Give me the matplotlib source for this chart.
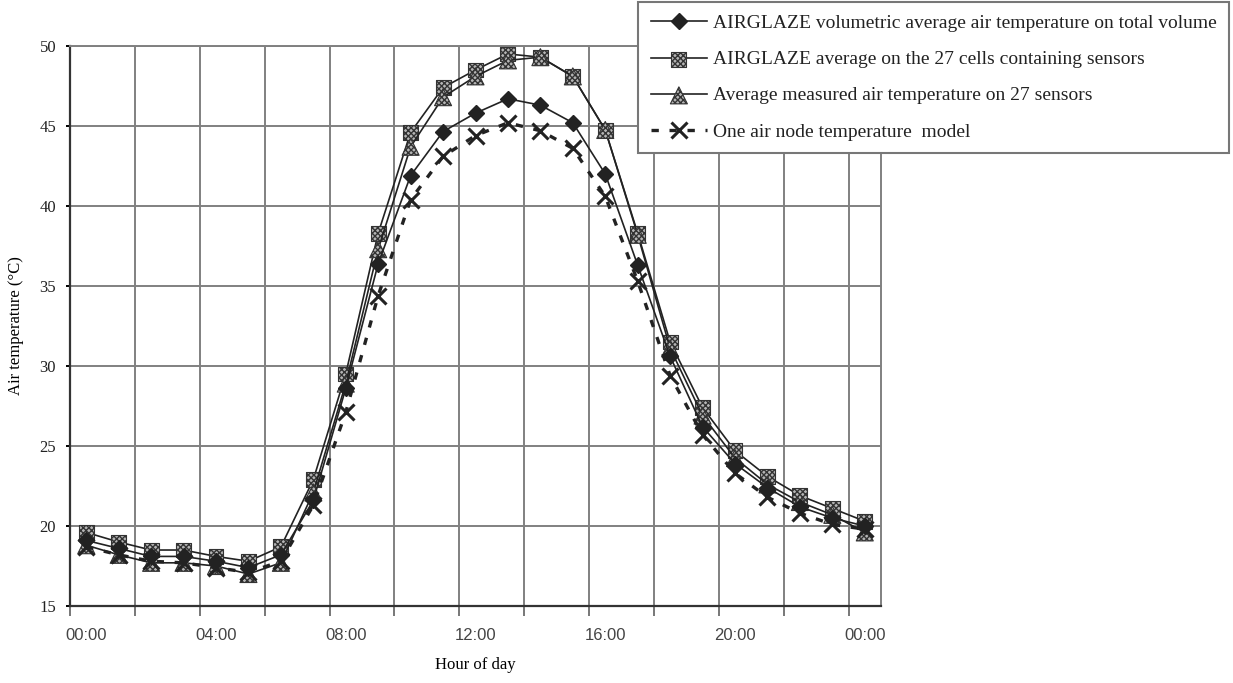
import numpy as np
import matplotlib.pyplot as plt

# hourly values, 00:00 to 00:00 next day
hours = np.arange(25)
label_pos = [0, 4, 8, 12, 16, 20, 24]
hour_labels = ["00:00", "04:00", "08:00", "12:00", "16:00", "20:00", "00:00"]
y_ticks = [15, 20, 25, 30, 35, 40, 45, 50]

airglaze_volume = [19.1, 18.6, 18.1, 18.1, 17.8, 17.4, 18.2, 21.6, 28.6, 36.4, 41.9, 44.65, 45.8,
                   46.7, 46.3, 45.2, 42.0, 36.3, 30.6, 26.2, 23.9, 22.4, 21.2, 20.5, 20.0]
airglaze_cells = [19.6, 19.0, 18.5, 18.5, 18.1, 17.8, 18.7, 22.9, 29.5, 38.3, 44.6, 47.4, 48.5,
                  49.5, 49.3, 48.1, 44.75, 38.3, 31.5, 27.4, 24.7, 23.1, 21.9, 21.1, 20.3]
measured = [18.8, 18.2, 17.7, 17.7, 17.5, 17.0, 17.7, 22.1, 28.9, 37.3, 43.7, 46.8, 48.1,
            49.1, 49.3, 48.1, 44.75, 38.2, 31.1, 26.9, 24.25, 22.6, 21.5, 20.7, 19.6]
one_node = [18.7, 18.2, 17.8, 17.7, 17.4, 17.1, 17.8, 21.3, 27.1, 34.4, 40.4, 43.1, 44.4,
            45.2, 44.7, 43.6, 40.6, 35.3, 29.4, 25.7, 23.3, 21.8, 20.8, 20.1, 19.8]

labels = ["AIRGLAZE volumetric average air temperature on total volume",
          "AIRGLAZE average on the 27 cells containing sensors",
          "Average measured air temperature on 27 sensors",
          "One air node temperature  model"]

plt.rcParams['font.family'] = ['Liberation Serif', 'DejaVu Serif']
plt.rcParams['text.color'] = '#222222'

fig = plt.figure(figsize=(12.33, 6.83), dpi=100)
ax = fig.add_axes([0.0568, 0.1127, 0.6577, 0.82])
ax.set_axisbelow(True)

dark = '#222222'
ln1, = ax.plot(hours, airglaze_volume, color=dark, lw=1.2, marker='D', ms=8.5,
               mfc=dark, mec=dark, zorder=4)
ln2, = ax.plot(hours, airglaze_cells, color=dark, lw=1.2, zorder=3)
sc2 = ax.scatter(hours, airglaze_cells, marker='s', s=115, facecolor='#b5b5b5',
                 edgecolor='#333333', hatch='xxxxxx', linewidths=0.8, zorder=3)
ln3, = ax.plot(hours, measured, color=dark, lw=1.2, zorder=3)
sc3 = ax.scatter(hours, measured, marker='^', s=150, facecolor='#b5b5b5',
                 edgecolor='#333333', hatch='xxxxxx', linewidths=0.8, zorder=3)
ln4, = ax.plot(hours, one_node, color=dark, lw=2.4, ls=(0, (2.2, 3.2)),
               marker='x', ms=11, mew=2.2, zorder=5)

ax.set_xlim(-0.5, 24.5)
ax.set_ylim(15, 50)

# gridlines every two hours, labels every four
ax.set_xticks(np.arange(-0.5, 24, 2))
ax.set_xticklabels([])
ax.set_xticks(label_pos, minor=True)
ax.set_xticklabels(hour_labels, minor=True)
ax.tick_params(axis='x', which='major', length=7, width=1.4, color='#777777')
ax.tick_params(axis='x', which='minor', length=0, pad=16, labelsize=12,
               labelcolor='#444444', labelfontfamily='Liberation Sans')
ax.set_yticks(y_ticks)
ax.tick_params(axis='y', length=3, width=1.4, pad=7, labelsize=12, labelcolor=dark)

ax.grid(True, which='major', color='#808080', lw=1.4)
for side in ['top', 'right']:
    ax.spines[side].set_color('#808080')
    ax.spines[side].set_linewidth(1.4)
for side in ['left', 'bottom']:
    ax.spines[side].set_color('#333333')
    ax.spines[side].set_linewidth(1.6)

ax.set_xlabel("Hour of day", fontsize=12, labelpad=10)
ax.set_ylabel("Air temperature (°C)", fontsize=12, labelpad=11)

leg = fig.legend([ln1, (ln2, sc2), (ln3, sc3), ln4], labels, loc='upper right',
                 bbox_to_anchor=(0.997, 0.997), borderaxespad=0, fontsize=14,
                 frameon=True, fancybox=False, framealpha=1, edgecolor='#777777',
                 handlelength=2.9, handletextpad=0.3, labelspacing=0.95, borderpad=0.65)
leg.get_frame().set_linewidth(1.5)

fig.savefig("out.png", dpi=100)
